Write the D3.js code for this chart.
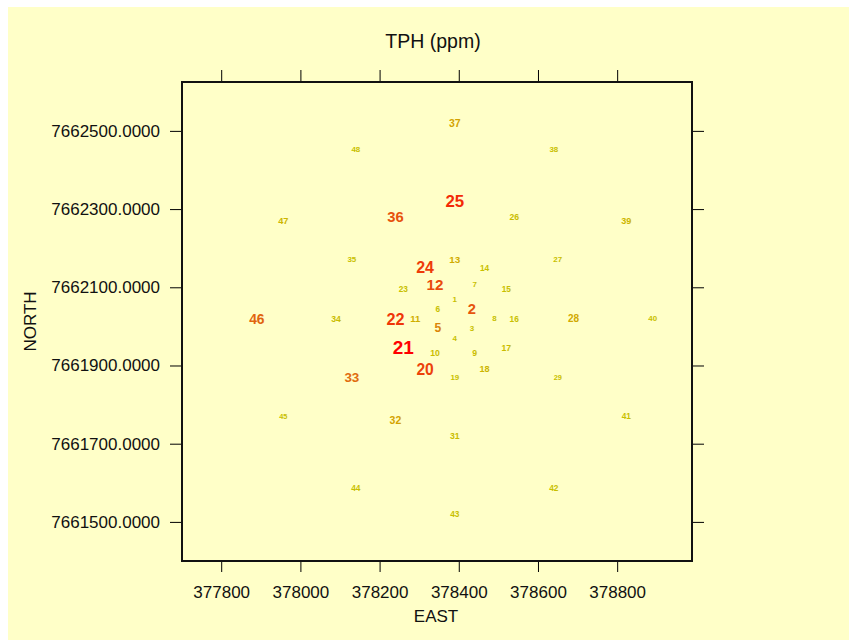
<!DOCTYPE html>
<html>
  <head>
    <meta charset="utf-8">
    <title>TPH (ppm)</title>
    <script src="https://d3js.org/d3.v7.min.js"></script>
    <style>
      body { margin: 0; background: #fff; }
      text { font-family: "Liberation Sans", Arial, sans-serif; }
      .tick line { stroke: #000; }
      .tick text { font-size: 17px; fill: #111; }
    </style>
  </head>
  <body>
    <svg id="chart" width="849" height="640"></svg>
    <script>
      // sample points (sample 30 has no value)
      ids = [1, 2, 3, 4, 5, 6, 7, 8, 9, 10, 11, 12,
        13, 14, 15, 16, 17, 18, 19, 20, 21, 22, 23, 24,
        25, 26, 27, 28, 29, 31, 32, 33, 34, 35, 36,
        37, 38, 39, 40, 41, 42, 43, 44, 45, 46, 47, 48];
      east = [378390, 378433, 378433, 378390, 378347, 378347, 378440, 378490, 378440, 378340, 378290, 378340,
        378390, 378465, 378520, 378540, 378520, 378465, 378390, 378315, 378260, 378240, 378260, 378315,
        378390, 378540, 378650, 378690, 378650, 378390, 378240, 378130, 378090, 378130, 378240,
        378390, 378640, 378823, 378890, 378823, 378640, 378390, 378140, 377957, 377890, 377957, 378140];
      north = [7662070, 7662045, 7661995, 7661970, 7661995, 7662045, 7662107, 7662020, 7661933, 7661933, 7662020, 7662107,
        7662170, 7662150, 7662095, 7662020, 7661945, 7661890, 7661870, 7661890, 7661945, 7662020, 7662095, 7662150,
        7662320, 7662280, 7662170, 7662020, 7661870, 7661720, 7661760, 7661870, 7662020, 7662170, 7662280,
        7662520, 7662453, 7662270, 7662020, 7661770, 7661587, 7661520, 7661587, 7661770, 7662020, 7662270, 7662453];
      tph = [8, 64, 8, 8, 43, 11, 8, 8, 14, 14, 22, 68,
        24, 11, 11, 11, 14, 18, 8, 72, 100, 77, 11, 75,
        82, 14, 8, 25, 3, 14, 29, 54, 14, 8, 65,
        29, 8, 18, 8, 11, 11, 11, 11, 3, 57, 18, 8];
      xTicks = [377800, 378000, 378200, 378400, 378600, 378800];
      yTicks = [7661500, 7661700, 7661900, 7662100, 7662300, 7662500];

      chart = d3.select("#chart");
      panel = { left: 182, right: 692, top: 82, bottom: 561 };

      // background
      chart.append("rect")
        .attr("x", 8)
        .attr("y", 7)
        .attr("width", 849 - 8)
        .attr("height", 640 - 7)
        .attr("fill", "#FFFFC8");

      // scales
      x = d3.scaleLinear()
        .domain([377701, 378989])
        .range([panel.left, panel.right]);
      y = d3.scaleLinear()
        .domain([7661400, 7662625])
        .range([panel.bottom, panel.top]);
      size = d3.scaleLinear()
        .domain([0, 100])
        .range([7, 19]);
      colour = d3.scaleLinear()
        .domain([12, 30, 55, 100])
        .range(["#C8C000", "#D4A000", "#E06A10", "#FF0000"])
        .clamp(true);

      // axes, ticks on all four sides
      bottomAxis = chart.append("g")
        .attr("transform", "translate(0," + panel.bottom + ")")
        .call(d3.axisBottom(x).tickValues(xTicks).tickSize(11).tickPadding(14).tickFormat(d3.format("d")));
      topAxis = chart.append("g")
        .attr("transform", "translate(0," + panel.top + ")")
        .call(d3.axisTop(x).tickValues(xTicks).tickSize(12).tickFormat(""));
      leftAxis = chart.append("g")
        .attr("transform", "translate(" + panel.left + ",0)")
        .call(d3.axisLeft(y).tickValues(yTicks).tickSize(12).tickPadding(10).tickFormat(function(d) { return d.toFixed(4); }));
      rightAxis = chart.append("g")
        .attr("transform", "translate(" + panel.right + ",0)")
        .call(d3.axisRight(y).tickValues(yTicks).tickSize(12).tickFormat(""));
      chart.selectAll(".domain").remove();
      chart.selectAll(".tick text").attr("font-family", null).attr("font-size", null);

      // panel border
      chart.append("rect")
        .attr("x", panel.left)
        .attr("y", panel.top)
        .attr("width", panel.right - panel.left)
        .attr("height", panel.bottom - panel.top)
        .attr("fill", "none")
        .attr("stroke", "#111")
        .attr("stroke-width", 2);

      // sample labels
      samples = ids.map(function(id, i) {
        return { id: id, east: east[i], north: north[i], tph: tph[i] };
      });
      chart.append("g")
        .selectAll("text")
          .data(samples)
        .enter().append("text")
          .attr("x", function(d) { return x(d.east); })
          .attr("y", function(d) { return y(d.north); })
          .attr("text-anchor", "middle")
          .attr("dominant-baseline", "central")
          .attr("font-weight", "bold")
          .attr("font-size", function(d) { return size(d.tph) + "px"; })
          .attr("fill", function(d) { return colour(d.tph); })
          .text(function(d) { return d.id; });

      // titles
      chart.append("text")
        .attr("x", 433)
        .attr("y", 41)
        .attr("text-anchor", "middle")
        .attr("dominant-baseline", "central")
        .attr("font-size", "19.5px")
        .attr("fill", "#111")
        .text("TPH (ppm)");
      chart.append("text")
        .attr("x", 436)
        .attr("y", 616)
        .attr("text-anchor", "middle")
        .attr("dominant-baseline", "central")
        .attr("font-size", "17px")
        .attr("fill", "#111")
        .text("EAST");
      chart.append("text")
        .attr("transform", "translate(30," + ((panel.top + panel.bottom) / 2) + ") rotate(-90)")
        .attr("text-anchor", "middle")
        .attr("dominant-baseline", "central")
        .attr("font-size", "17px")
        .attr("fill", "#111")
        .text("NORTH");
    </script>
  </body>
</html>
